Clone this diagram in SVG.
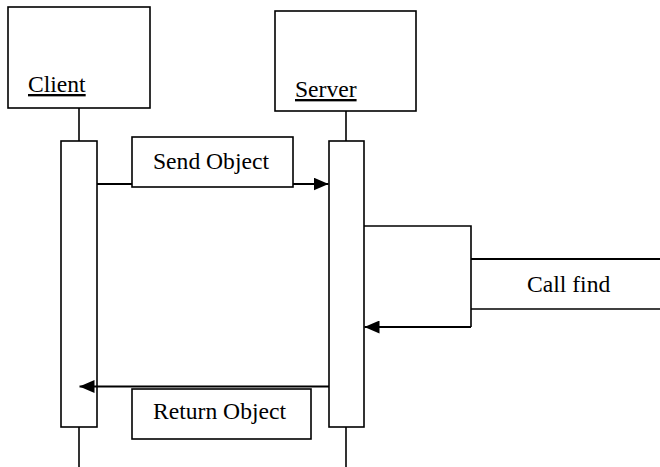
<svg xmlns="http://www.w3.org/2000/svg" width="660" height="467" viewBox="0 0 660 467">
<style>
.box{fill:#fff;stroke:#000;stroke-width:1.6}
.line{fill:none;stroke:#000;stroke-width:1.6}
.msg{fill:none;stroke:#000;stroke-width:2.2}
.lbl{font-size:23.6px;fill:#000}
.u{text-decoration:underline}
</style>
<defs>
<marker id="arr" markerWidth="15" markerHeight="13" refX="15" refY="6.5" orient="auto" markerUnits="userSpaceOnUse">
<path d="M0,0 L15,6.5 L0,13 Z" fill="#000"/>
</marker>
</defs>
<rect width="660" height="467" fill="#fff"/>
<g font-family="Liberation Serif, Times New Roman, DejaVu Serif, serif">
<g id="client">
<rect class="box" x="8" y="7" width="142" height="101"/>
<text class="lbl u" x="28" y="92">Client</text>
<line class="line" x1="79" y1="108" x2="79" y2="141"/>
<line class="line" x1="79" y1="427" x2="79" y2="467"/>
<rect class="box" x="61" y="141" width="36" height="286"/>
</g>
<g id="server">
<rect class="box" x="275" y="11" width="141" height="100"/>
<text class="lbl u" x="295" y="97">Server</text>
<line class="line" x1="346" y1="111" x2="346" y2="141"/>
<line class="line" x1="346" y1="427" x2="346" y2="467"/>
<rect class="box" x="329" y="141" width="35" height="286"/>
</g>
<g id="connectors">
<line class="msg" x1="97" y1="184" x2="328.5" y2="184" marker-end="url(#arr)"/>
<polyline class="line" points="364,226 471,226 471,327"/>
<line class="msg" x1="471" y1="327" x2="364.5" y2="327" marker-end="url(#arr)"/>
<line class="msg" x1="329" y1="386.5" x2="79.5" y2="386.5" marker-end="url(#arr)"/>
</g>
<g id="send-object">
<rect class="box" x="132" y="137" width="161" height="50"/>
<text class="lbl" x="153" y="169">Send Object</text>
</g>
<g id="call-find">
<line class="msg" x1="471" y1="259" x2="660" y2="259"/>
<line class="line" x1="471" y1="309" x2="660" y2="309"/>
<text class="lbl" x="527" y="292">Call find</text>
</g>
<g id="return-object">
<rect class="box" x="132" y="389" width="179" height="50"/>
<text class="lbl" x="153" y="419">Return Object</text>
</g>
</g>
</svg>
